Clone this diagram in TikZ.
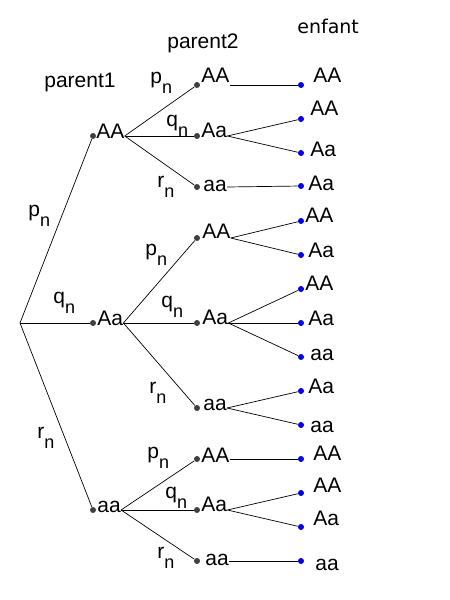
\documentclass[tikz,border=0pt]{standalone}
\usepackage{fontspec}
\setmainfont{Liberation Sans}
\newfontfamily\enffont{DejaVu Sans}
\newcommand\idx[1]{\raisebox{-10pt}{\fontsize{18}{18}\selectfont #1}}
\definecolor{dotgray}{HTML}{404040}
\definecolor{dotblue}{HTML}{0000E6}

\begin{document}
\begin{tikzpicture}[x=1pt, y=-1pt, line width=0.7pt,
  gdot/.style={circle, fill=dotgray, inner sep=0pt, minimum size=6pt},
  bdot/.style={circle, fill=dotblue, inner sep=0pt, minimum size=6pt},
  lbl/.style={anchor=base west, inner sep=0pt, font=\fontsize{21}{21}\selectfont}]
\useasboundingbox (0,0) rectangle (450,600);

% headers
\node[lbl] (h1) at (44,87) {parent1};
\node[lbl] (h2) at (167,48) {parent2};
\node[lbl, font=\enffont\fontsize{19}{19}\selectfont] (h3) at (297,33) {enfant};

% parent1
\coordinate (R) at (20,323);
\node[gdot] (a1) at (93,136) {};
\node[gdot] (a2) at (93,323) {};
\node[gdot] (a3) at (93,510) {};
\node[lbl] (la1) at (96,138) {AA};
\node[lbl] (la2) at (97,325) {Aa};
\node[lbl] (la3) at (97,512) {aa};

% parent2
\node[gdot] (b1) at (197,85) {};
\node[gdot] (b2) at (197,136) {};
\node[gdot] (b3) at (197,187) {};
\node[gdot] (b4) at (197,238) {};
\node[gdot] (b5) at (197,323) {};
\node[gdot] (b6) at (197,408) {};
\node[gdot] (b7) at (197,459) {};
\node[gdot] (b8) at (197,510) {};
\node[gdot] (b9) at (197,561) {};
\node[lbl] (lb1) at (201,82) {AA};
\node[lbl] (lb2) at (201,137) {Aa};
\node[lbl] (lb3) at (203,191) {aa};
\node[lbl] (lb4) at (202,238) {AA};
\node[lbl] (lb5) at (202,324) {Aa};
\node[lbl] (lb6) at (203,410) {aa};
\node[lbl] (lb7) at (201,462) {AA};
\node[lbl] (lb8) at (201,511) {Aa};
\node[lbl] (lb9) at (205,565) {aa};

% enfant
\node[bdot] (c1) at (301,85) {};
\node[bdot] (c2) at (301,119) {};
\node[bdot] (c3) at (301,153) {};
\node[bdot] (c4) at (301,186) {};
\node[bdot] (c5) at (301,221) {};
\node[bdot] (c6) at (301,255) {};
\node[bdot] (c7) at (301,289) {};
\node[bdot] (c8) at (301,323) {};
\node[bdot] (c9) at (301,357) {};
\node[bdot] (c10) at (301,391) {};
\node[bdot] (c11) at (301,425) {};
\node[bdot] (c12) at (301,459) {};
\node[bdot] (c13) at (301,493) {};
\node[bdot] (c14) at (301,527) {};
\node[bdot] (c15) at (301,561) {};
\node[lbl] (lc1) at (313,82) {AA};
\node[lbl] (lc2) at (310,115) {AA};
\node[lbl] (lc3) at (310,156) {Aa};
\node[lbl] (lc4) at (308,190) {Aa};
\node[lbl] (lc5) at (305,222) {AA};
\node[lbl] (lc6) at (308,257) {Aa};
\node[lbl] (lc7) at (305,290) {AA};
\node[lbl] (lc8) at (308,325) {Aa};
\node[lbl] (lc9) at (310,360) {aa};
\node[lbl] (lc10) at (308,393) {Aa};
\node[lbl] (lc11) at (310,432) {aa};
\node[lbl] (lc12) at (313,460) {AA};
\node[lbl] (lc13) at (313,492) {AA};
\node[lbl] (lc14) at (313,525) {Aa};
\node[lbl] (lc15) at (315,570) {aa};

% probabilities
\node[lbl] (pr1) at (28,216) {p\idx{n}};
\node[lbl] (pr2) at (53,303) {q\idx{n}};
\node[lbl] (pr3) at (37,438) {r\idx{n}};
\node[lbl] (p11) at (150,83) {p\idx{n}};
\node[lbl] (p12) at (166,126) {q\idx{n}};
\node[lbl] (p13) at (157,187) {r\idx{n}};
\node[lbl] (p21) at (145,255) {p\idx{n}};
\node[lbl] (p22) at (161,307) {q\idx{n}};
\node[lbl] (p23) at (149,393) {r\idx{n}};
\node[lbl] (p31) at (147,458) {p\idx{n}};
\node[lbl] (p32) at (165,498) {q\idx{n}};
\node[lbl] (p33) at (157,558) {r\idx{n}};

% edges
\draw (R) -- (a1);
\draw (R) -- (a2);
\draw (R) -- (a3);
\draw (la1.east |- a1) -- (b1);
\draw (la1.east |- a1) -- (b2);
\draw (la1.east |- a1) -- (b3);
\draw (la2.east |- a2) -- (b4);
\draw (la2.east |- a2) -- (b5);
\draw (la2.east |- a2) -- (b6);
\draw (la3.east |- a3) -- (b7);
\draw (la3.east |- a3) -- (b8);
\draw (la3.east |- a3) -- (b9);
\draw (lb1.east |- b1) -- (c1);
\draw (lb2.east |- b2) -- (c2);
\draw (lb2.east |- b2) -- (c3);
\draw (lb3.east |- b3) -- (c4);
\draw (lb4.east |- b4) -- (c5);
\draw (lb4.east |- b4) -- (c6);
\draw (lb5.east |- b5) -- (c7);
\draw (lb5.east |- b5) -- (c8);
\draw (lb5.east |- b5) -- (c9);
\draw (lb6.east |- b6) -- (c10);
\draw (lb6.east |- b6) -- (c11);
\draw (lb7.east |- b7) -- (c12);
\draw (lb8.east |- b8) -- (c13);
\draw (lb8.east |- b8) -- (c14);
\draw (lb9.east |- b9) -- (c15);
\end{tikzpicture}
\end{document}
